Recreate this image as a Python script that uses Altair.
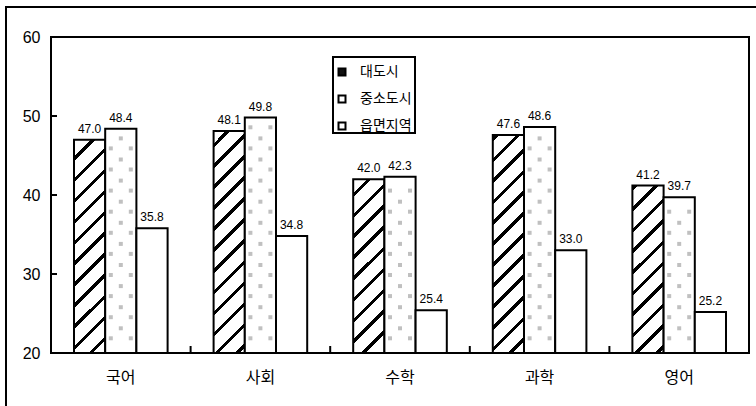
import altair as alt

subjects = ["국어", "사회", "수학", "과학", "영어"]
series = ["대도시", "중소도시", "읍면지역"]
big_city = [47.0, 48.1, 42.0, 47.6, 41.2]
mid_city = [48.4, 49.8, 42.3, 48.6, 39.7]
rural = [35.8, 34.8, 25.4, 33.0, 25.2]
y_ticks = [20, 30, 40, 50, 60]

# ---- layout / style constants ----
PAD_L, PAD_T, PAD_R, PAD_B = 51, 37, 7, 53
W, H = 698, 316
Y0, Y1 = y_ticks[0], y_ticks[-1]
PX = H / (Y1 - Y0)
STEP = W / len(subjects)
OUTER = 0.737
BAR_W = STEP / (3 + 2 * OUTER)


def hatch(i, v):
    """diagonal '/' stripe fill for one bar, as a Vega linear gradient"""
    w = BAR_W
    h = (v - Y0) * PX
    bx = PAD_L + i * STEP + OUTER * BAR_W
    by = PAD_T + H - h
    tot = w + h
    period, thick = 21.0, 4.5
    g0 = bx + by
    start = (-g0) % period
    stops = []
    s0 = start - period
    while s0 < tot:
        a, b = max(s0, 0.0), min(s0 + thick, tot)
        if b > a:
            for off, col in ((a, "white"), (a, "black"), (b, "black"), (b, "white")):
                stops.append({"offset": round(off / tot, 5), "color": col})
        s0 += period
    k = tot / (w * w + h * h)
    return {"gradient": "linear", "x1": 0, "y1": 0,
            "x2": round(k * w, 5), "y2": round(k * h, 5), "stops": stops}


rows = []
for i, s in enumerate(subjects):
    for name, vals in zip(series, (big_city, mid_city, rural)):
        v = vals[i]
        rows.append({"subject": s, "series": name, "value": v,
                     "grad": hatch(i, v) if name == "대도시" else "white"})

# grey dot texture for 중소도시 bars
dots_side, dots_mid = [], []
for i, s in enumerate(subjects):
    top = PAD_T + H - (mid_city[i] - Y0) * PX
    for base, out in ((338.3, dots_side), (328.3, dots_mid)):
        yp = base
        while yp - 2 > top + 6:
            out.append({"subject": s, "yv": Y0 + (PAD_T + H - yp) / PX})
            yp -= 21.1

data = alt.Data(values=rows)
x_enc = alt.X("subject:N", sort=subjects,
              scale=alt.Scale(paddingInner=0, paddingOuter=0),
              axis=alt.Axis(title=None, labelAngle=0, labelFont="Noto Sans CJK KR",
                            labelFontSize=16, labelColor="black", ticks=False,
                            domain=False, labelPadding=16))
y_enc = alt.Y("value:Q", scale=alt.Scale(domain=[Y0, Y1], nice=False, zero=False),
              axis=alt.Axis(title=None, values=y_ticks, labelFont="Liberation Sans",
                            labelFontSize=16, labelColor="black", tickSize=0,
                            labelPadding=11, domain=False, grid=False))
xoff = alt.XOffset("series:N", sort=series,
                   scale=alt.Scale(domain=series, paddingInner=0, paddingOuter=OUTER))

bars = alt.Chart(data).mark_bar(stroke="black", strokeWidth=2).encode(
    x=x_enc, y=y_enc, y2=alt.datum(Y0), xOffset=xoff,
    fill=alt.Fill("grad:N", scale=None),
)

dot_layers = []
for src, offsets in ((dots_side, (-10, 10)), (dots_mid, (0,))):
    for o in offsets:
        dot_layers.append(
            alt.Chart(alt.Data(values=src)).mark_square(
                size=16, fill="#c0c0c0", opacity=1, strokeWidth=0, xOffset=o
            ).encode(x=alt.X("subject:N", sort=subjects), y=alt.Y("yv:Q"))
        )

labels = alt.Chart(data).mark_text(
    font="Liberation Sans", fontSize=12, color="black", baseline="alphabetic", dy=-7
).encode(x=alt.X("subject:N", sort=subjects), y=alt.Y("value:Q"), xOffset=xoff,
         text=alt.Text("value:Q", format=".1f"))

legend_layer = alt.Chart(data).mark_square(opacity=0).encode(
    x=alt.X("subject:N", sort=subjects), y=alt.Y("value:Q"),
    fill=alt.Fill("series:N", scale=alt.Scale(domain=series, range=["#111111", "white", "white"]),
                  legend=alt.Legend(title=None, orient="none", legendX=284, legendY=28,
                                    padding=0, rowPadding=11, labelOffset=11,
                                    symbolType="square", symbolSize=49,
                                    symbolStrokeColor="black", symbolStrokeWidth=2,
                                    symbolOpacity=1,
                                    labelFont="Noto Sans CJK KR", labelFontSize=14,
                                    labelColor="black")),
)

one = alt.Data(values=[{}])
legend_box = alt.Chart(one).mark_rect(filled=False, stroke="black", strokeWidth=2).encode(
    x=alt.value(282), x2=alt.value(364), y=alt.value(20), y2=alt.value(96))
frame = alt.Chart(one).mark_rect(filled=False, stroke="black", strokeWidth=2).encode(
    x=alt.value(-45), x2=alt.value(730), y=alt.value(-30), y2=alt.value(430))

ytick_rules = alt.Chart(alt.Data(values=[{"t": t} for t in y_ticks[1:-1]])).mark_rule(
    color="black", strokeWidth=2).encode(y=alt.Y("t:Q"), x=alt.value(0), x2=alt.value(6))
xtick_rules = alt.Chart(alt.Data(values=[{"subject": s} for s in subjects[1:]])).mark_rule(
    color="black", strokeWidth=2).encode(
    x=alt.X("subject:N", sort=subjects, bandPosition=0),
    y=alt.value(H - 7), y2=alt.value(H))

chart = alt.layer(frame, bars, *dot_layers, labels, legend_layer, legend_box,
                  ytick_rules, xtick_rules).properties(
    width=W, height=H,
    padding={"left": PAD_L, "top": PAD_T, "right": PAD_R, "bottom": PAD_B},
    autosize=alt.AutoSizeParams(type="none"),
    background="white",
).configure_view(stroke="black", strokeWidth=2)

chart.save("out.html", embed_options={"renderer": "svg", "actions": False})
